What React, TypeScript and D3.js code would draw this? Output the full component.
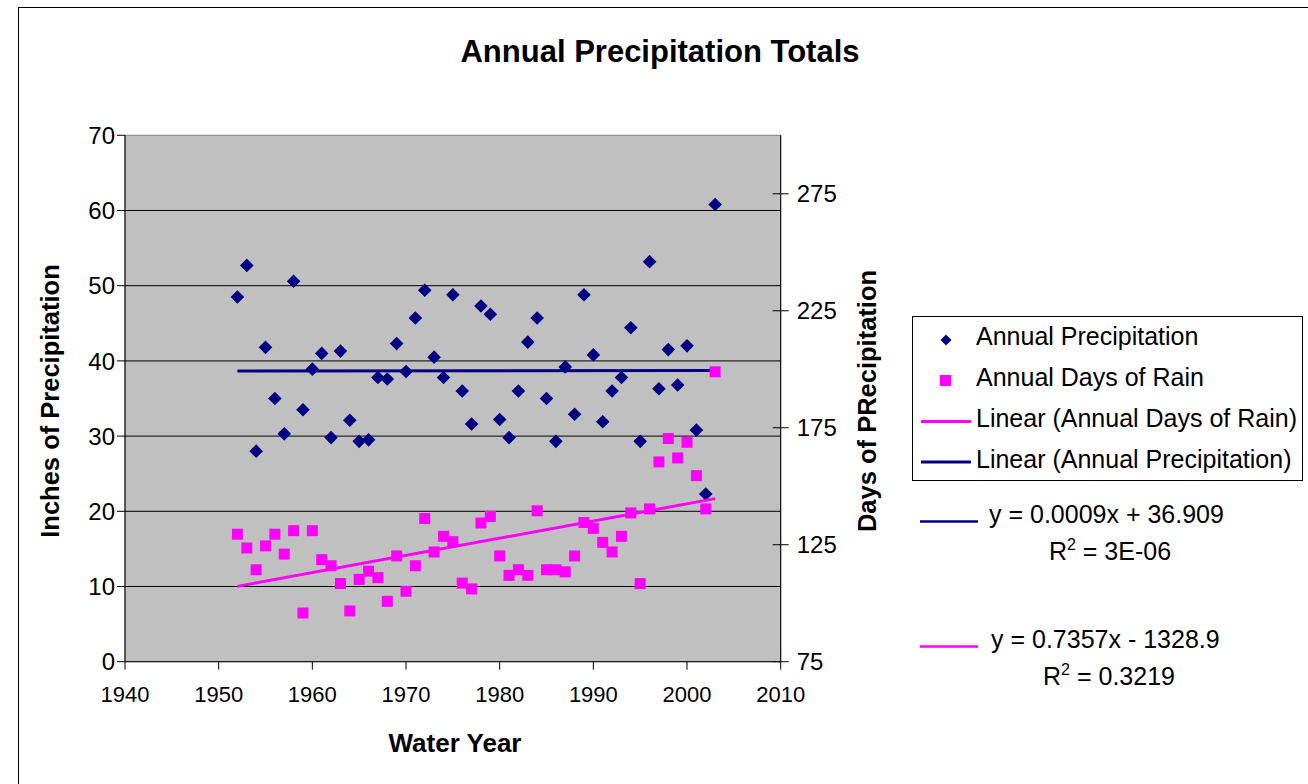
import React from "react";
import * as d3 from "d3";

const years = [1952,1953,1954,1955,1956,1957,1958,1959,1960,1961,1962,1963,1964,1965,1966,1967,1968,1969,1970,1971,1972,1973,1974,1975,1976,1977,1978,1979,1980,1981,1982,1983,1984,1985,1986,1987,1988,1989,1990,1991,1992,1993,1994,1995,1996,1997,1998,1999,2000,2001,2002,2003];
const annualPrecip = [48.5,52.7,28.0,41.8,35.0,30.3,50.6,33.5,38.9,41.0,29.8,41.3,32.1,29.3,29.5,37.8,37.6,42.3,38.6,45.7,49.4,40.5,37.8,48.8,36.0,31.6,47.3,46.2,32.2,29.8,36.0,42.5,45.7,35.0,29.3,39.2,32.9,48.8,40.8,31.9,36.0,37.8,44.4,29.3,53.2,36.3,41.5,36.8,42.0,30.8,22.3,60.8];
const annualDays = [129.5,123.6,114.3,124.5,129.5,121.0,131.0,95.8,131.0,118.6,116.0,108.4,96.7,110.2,113.7,110.9,100.8,120.2,105.1,116.0,136.2,121.9,128.6,126.3,108.6,106.1,134.3,137.1,120.2,111.9,114.3,111.9,139.5,114.3,114.3,113.4,120.2,134.5,132.0,126.0,121.9,128.6,138.6,108.4,140.3,160.4,170.4,162.1,168.8,154.5,140.3,198.9];

const xTicks = [1940,1950,1960,1970,1980,1990,2000,2010];
const leftTicks = [0,10,20,30,40,50,60,70];
const rightTicks = [75,125,175,225,275];

const precipTrend = { slope: 0.0009, intercept: 36.909 };
const daysTrend = { slope: 0.7357, intercept: -1328.9 };

const NAVY = "#000080";
const PINK = "#FF00FF";
const FONT = "Arial, 'Liberation Sans', sans-serif";

export default function App() {
  const L = 125, R = 780.7, T = 135.3, B = 661.7;
  const x = d3.scaleLinear().domain([1940, 2010]).range([L, R]);
  const yL = d3.scaleLinear().domain([0, 70]).range([B, T]);
  const yR = d3.scaleLinear().domain([75, 300]).range([B, T]);

  const x0 = years[0], x1 = years[years.length - 1];
  const line = d3.line<[number, number]>().x(d => d[0]).y(d => d[1]);
  const pTrend = line([
    [x(x0), yL(precipTrend.slope * x0 + precipTrend.intercept)],
    [x(x1), yL(precipTrend.slope * x1 + precipTrend.intercept)],
  ]);
  const dTrend = line([
    [x(x0), yR(daysTrend.slope * x0 + daysTrend.intercept)],
    [x(x1), yR(daysTrend.slope * x1 + daysTrend.intercept)],
  ]);
  const diamond = d3.symbol().type(d3.symbolDiamond2).size(118)() as string;
  const legDiamond = d3.symbol().type(d3.symbolDiamond2).size(75)() as string;

  const legFont = 25;
  return (
    <svg width={1308} height={784} style={{ position: "absolute", left: 0, top: 0, background: "#fff" }} fontFamily={FONT}>
      <rect x={18.5} y={7.5} width={1300} height={800} fill="#fff" stroke="#000" strokeWidth={1} />
      <text x={660} y={62} textAnchor="middle" fontSize={31} fontWeight="bold">Annual Precipitation Totals</text>

      <rect x={L} y={T} width={R - L} height={B - T} fill="#C0C0C0" stroke="#808080" strokeWidth={1} />
      {leftTicks.filter(t => t > 0 && t < 70).map(t => (
        <line key={"g" + t} x1={L} x2={R} y1={yL(t)} y2={yL(t)} stroke="#000" strokeWidth={1} />
      ))}
      <line x1={L} x2={L} y1={T} y2={B} stroke="#000" />
      <line x1={L} x2={R} y1={B} y2={B} stroke="#000" />
      <line x1={R} x2={R} y1={T} y2={B} stroke="#000" />
      {leftTicks.map(t => (
        <g key={"l" + t}>
          <line x1={L - 8} x2={L} y1={yL(t)} y2={yL(t)} stroke="#000" />
          <text x={L - 10} y={yL(t)} dy="0.36em" textAnchor="end" fontSize={24}>{t}</text>
        </g>
      ))}
      {rightTicks.map(t => (
        <g key={"r" + t}>
          <line x1={R - 8} x2={R + 8} y1={yR(t)} y2={yR(t)} stroke="#000" />
          <text x={R + 16} y={yR(t)} dy="0.36em" textAnchor="start" fontSize={24}>{t}</text>
        </g>
      ))}
      {xTicks.map(t => (
        <g key={"x" + t}>
          <line x1={x(t)} x2={x(t)} y1={B} y2={B + 8} stroke="#000" />
          <text x={x(t)} y={702} textAnchor="middle" fontSize={22}>{t}</text>
        </g>
      ))}

      <text transform={`translate(59,401) rotate(-90)`} textAnchor="middle" fontSize={25.5} fontWeight="bold">Inches of Precipitation</text>
      <text transform={`translate(876,401) rotate(-90)`} textAnchor="middle" fontSize={25.5} fontWeight="bold">Days of PRecipitation</text>
      <text x={455} y={752} textAnchor="middle" fontSize={26} fontWeight="bold">Water Year</text>

      <path d={pTrend || ""} stroke={NAVY} strokeWidth={3} fill="none" />
      {years.map((yr, i) => (
        <path key={"p" + yr} d={diamond} transform={`translate(${x(yr)},${yL(annualPrecip[i])})`} fill={NAVY} />
      ))}
      <path d={dTrend || ""} stroke={PINK} strokeWidth={3} fill="none" />
      {years.map((yr, i) => (
        <rect key={"d" + yr} x={x(yr) - 5.5} y={yR(annualDays[i]) - 5.5} width={11} height={11} fill={PINK} />
      ))}

      <rect x={912.5} y={316.5} width={390} height={164} fill="#fff" stroke="#000" />
      <path d={legDiamond} transform="translate(946,340)" fill={NAVY} />
      <text x={976} y={345} fontSize={legFont}>Annual Precipitation</text>
      <rect x={940} y={375} width={11} height={11} fill={PINK} />
      <text x={976} y={386} fontSize={legFont}>Annual Days of Rain</text>
      <line x1={921} x2={971} y1={421.5} y2={421.5} stroke={PINK} strokeWidth={3} />
      <text x={976} y={427} fontSize={legFont}>Linear (Annual Days of Rain)</text>
      <line x1={921} x2={971} y1={462} y2={462} stroke={NAVY} strokeWidth={3} />
      <text x={976} y={468} fontSize={legFont}>Linear (Annual Precipitation)</text>

      <line x1={920} x2={978} y1={521.5} y2={521.5} stroke={NAVY} strokeWidth={2.5} />
      <text x={989} y={523} fontSize={legFont}>{`y = ${precipTrend.slope}x + ${precipTrend.intercept}`}</text>
      <text x={1110} y={560} textAnchor="middle" fontSize={legFont}>R<tspan dy={-10} fontSize={16}>2</tspan><tspan dy={10}> = 3E-06</tspan></text>

      <line x1={920} x2={978} y1={646.5} y2={646.5} stroke={PINK} strokeWidth={2.5} />
      <text x={991} y={648} fontSize={legFont}>{`y = ${daysTrend.slope}x - ${Math.abs(daysTrend.intercept)}`}</text>
      <text x={1109} y={685} textAnchor="middle" fontSize={legFont}>R<tspan dy={-10} fontSize={16}>2</tspan><tspan dy={10}> = 0.3219</tspan></text>
    </svg>
  );
}
